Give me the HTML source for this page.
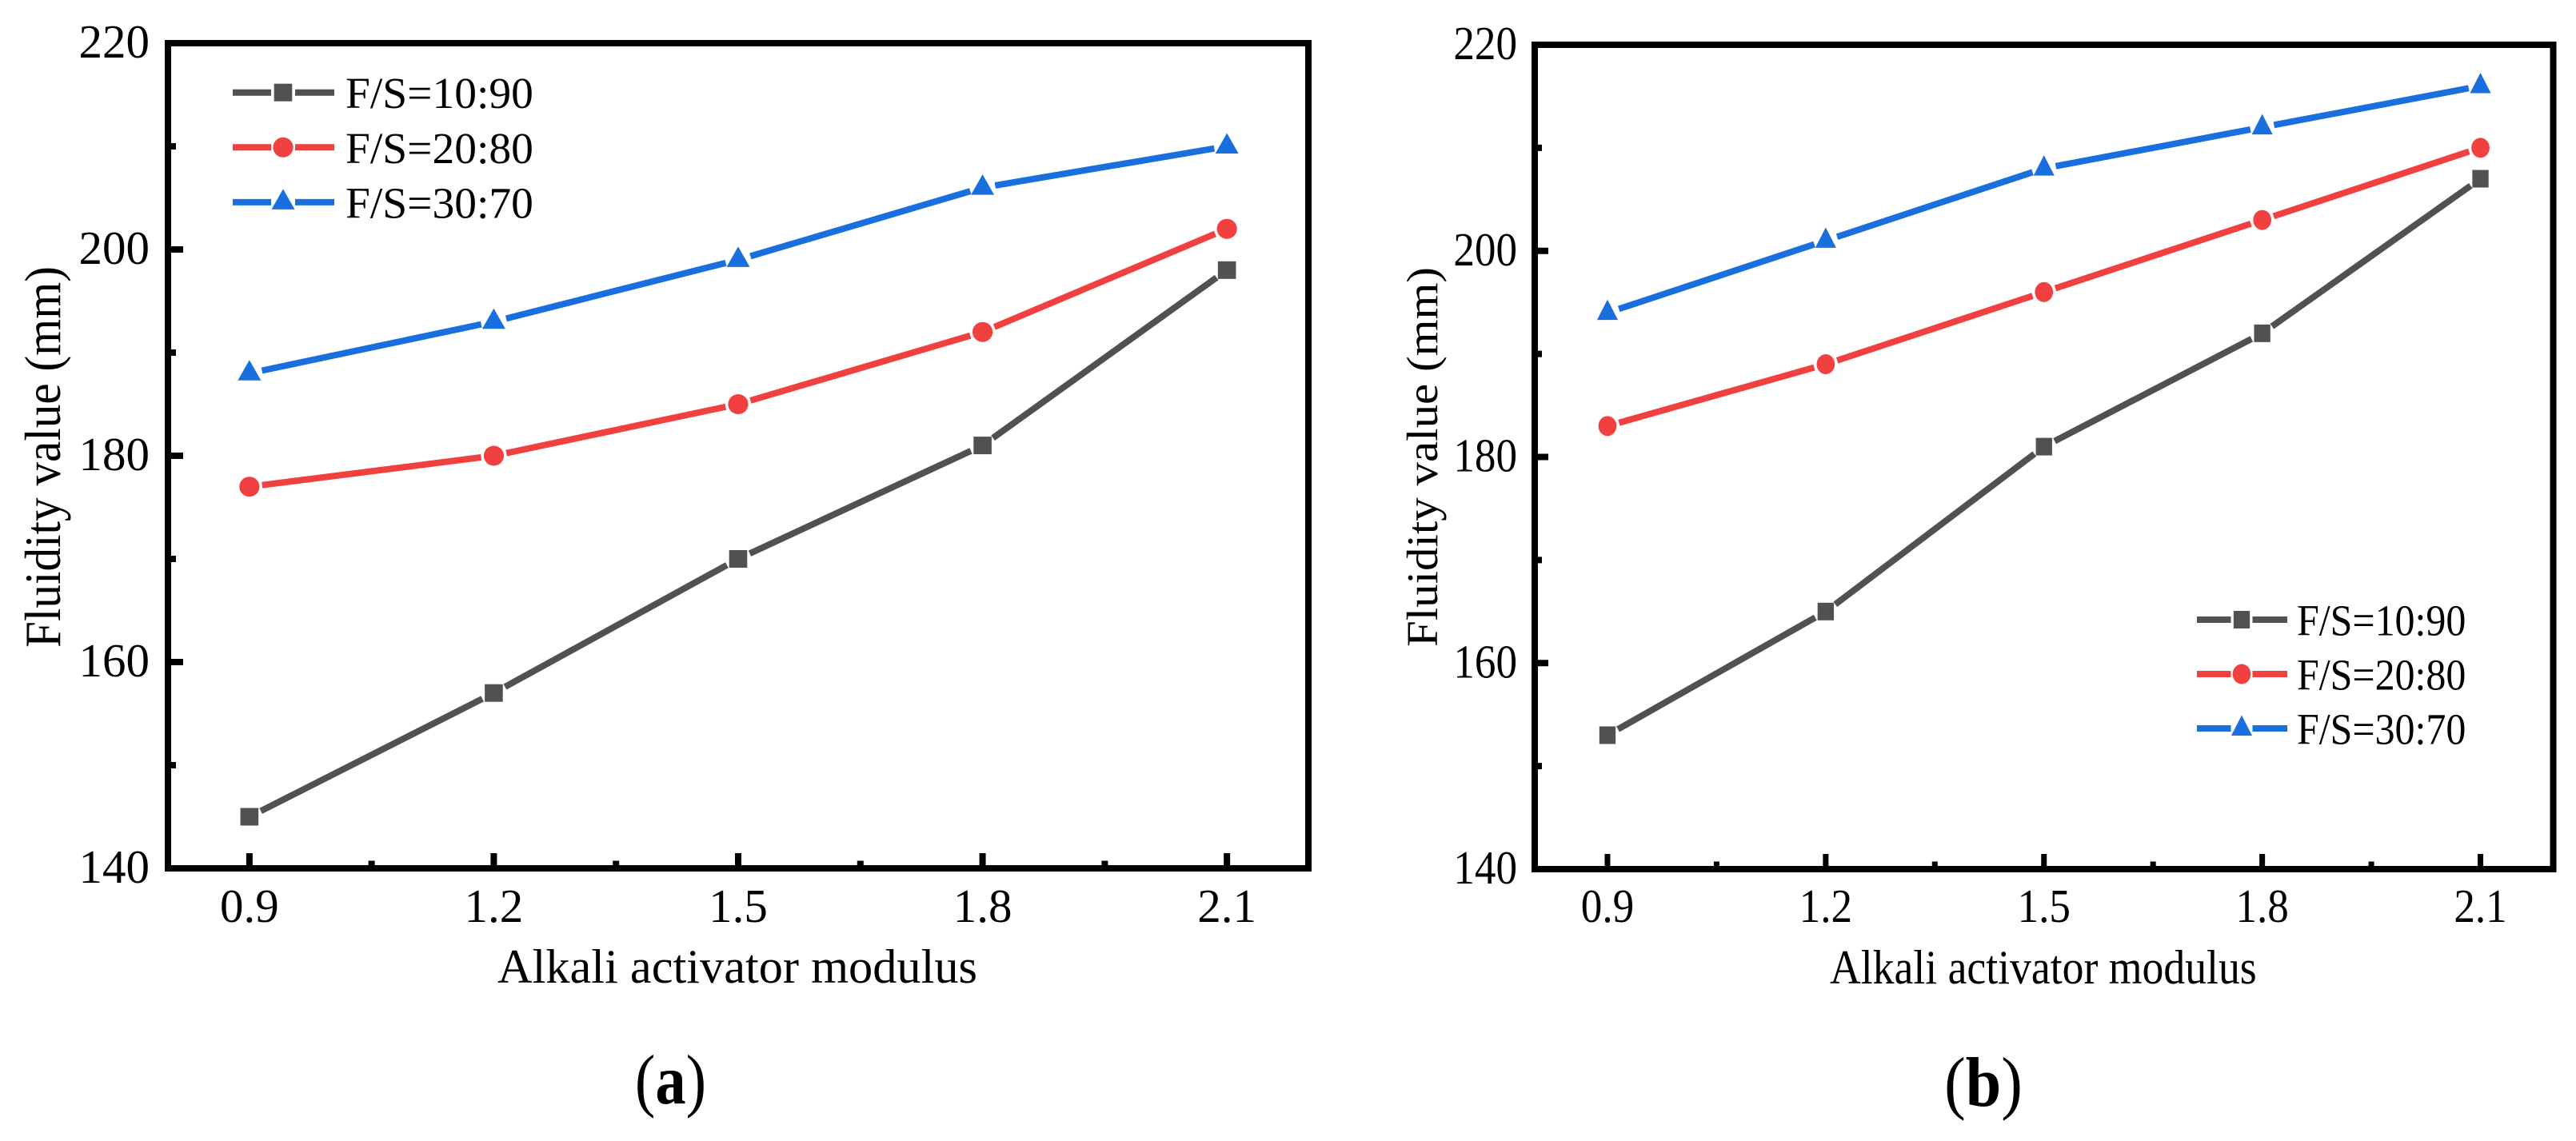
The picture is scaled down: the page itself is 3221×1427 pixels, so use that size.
<!DOCTYPE html>
<html lang="en">
<head>
<meta charset="utf-8">
<title>Fluidity value vs alkali activator modulus</title>
<style>
html,body{margin:0;padding:0;background:#fff;width:3221px;height:1427px;overflow:hidden}
svg{display:block}
text{font-family:"Liberation Serif","Times New Roman",serif;fill:#000}
</style>
</head>
<body>
<svg id="figure" xmlns="http://www.w3.org/2000/svg" width="3221" height="1427" viewBox="0 0 3221 1427">
  <rect x="0" y="0" width="3221" height="1427" fill="#fff"/>

  <g id="panel-a">
    <rect x="210" y="54" width="1426" height="1032" fill="none" stroke="#000" stroke-width="8"/>
    <text x="622" y="1229" font-size="60" textLength="600" lengthAdjust="spacingAndGlyphs">Alkali activator modulus</text>
    <text transform="translate(75 810) scale(1.06 1) rotate(-90)" font-size="59.5" textLength="477" lengthAdjust="spacingAndGlyphs">Fluidity value (mm)</text>
    <text transform="translate(838.5 1380) scale(0.87 1)" font-size="88" text-anchor="middle">(<tspan font-weight="bold">a</tspan>)</text>
  </g>

  <g id="panel-b">
    <rect x="1919" y="56" width="1273.5" height="1031" fill="none" stroke="#000" stroke-width="8"/>
    <text transform="translate(2288 1230) scale(0.9 1)" font-size="60" textLength="593" lengthAdjust="spacingAndGlyphs">Alkali activator modulus</text>
    <text transform="translate(1797 809) scale(0.92 1) rotate(-90)" font-size="59.5" textLength="475" lengthAdjust="spacingAndGlyphs">Fluidity value (mm)</text>
    <text transform="translate(2480 1383) scale(0.91 1)" font-size="88" text-anchor="middle">(<tspan font-weight="bold">b</tspan>)</text>
  </g>
</svg>

<script>
// Shared axis data
const categories = [0.9, 1.2, 1.5, 1.8, 2.1];
const xMinorTicks = [1.05, 1.35, 1.65, 1.95];
const xTickLabels = ['0.9', '1.2', '1.5', '1.8', '2.1'];
const yTicks = [140, 160, 180, 200, 220];
const yMinorTicks = [150, 170, 190, 210];
const yTickLabels = ['140', '160', '180', '200', '220'];
const seriesNames = ['F/S=10:90', 'F/S=20:80', 'F/S=30:70'];

// Panel (a) values
const panelAFs1090 = [145, 157, 170, 181, 198];
const panelAFs2080 = [177, 180, 185, 192, 202];
const panelAFs3070 = [188, 193, 199, 206, 210];

// Panel (b) values
const panelBFs1090 = [153, 165, 181, 192, 207];
const panelBFs2080 = [183, 189, 196, 203, 210];
const panelBFs3070 = [194, 201, 208, 212, 216];

const NS = 'http://www.w3.org/2000/svg';
const seriesColors = ['#515151', '#f14040', '#1a6fdf'];
const seriesKeys = ['fs-10-90', 'fs-20-80', 'fs-30-70'];

function make(tag, attrs, parent) {
  const el = document.createElementNS(NS, tag);
  for (const k in attrs) el.setAttribute(k, attrs[k]);
  parent.appendChild(el);
  return el;
}

function drawMarker(kind, cx, cy, color, sx, parent, prefix) {
  let el;
  if (kind === 0) {
    el = make('rect', {x: cx - 11.3 * sx, y: cy - 11, width: 22.6 * sx, height: 22, fill: color}, parent);
  } else if (kind === 1) {
    el = make('ellipse', {cx: cx, cy: cy, rx: 12.6 * sx, ry: 12.5, fill: color}, parent);
  } else {
    const pts = [[cx, cy - 16.5], [cx + 14.5 * sx, cy + 9], [cx - 14.5 * sx, cy + 9]];
    el = make('polygon', {points: pts.map(p => p.join(',')).join(' '), fill: color}, parent);
  }
  
  
}

function drawPanel(cfg) {
  const root = document.getElementById(cfg.id);
  const x = v => cfg.left + (v - 0.8) / 1.4 * (cfg.right - cfg.left);
  const y = v => cfg.top + (220 - v) / 80 * (cfg.bottom - cfg.top);

  // x ticks
  categories.forEach((c, i) => {
    const tick = make('line', {x1: x(c), x2: x(c), y1: cfg.bottom, y2: cfg.bottom - 19, stroke: '#000', 'stroke-width': cfg.tickW}, root);
    
    
    const label = make('text', {transform: 'translate(' + x(c) + ' ' + cfg.xLabelY + ') scale(' + cfg.sx + ' 1)', 'font-size': 59, 'text-anchor': 'middle'}, root);
    label.textContent = xTickLabels[i];
    
    
  });
  xMinorTicks.forEach(c => {
    const tick = make('line', {x1: x(c), x2: x(c), y1: cfg.bottom, y2: cfg.bottom - 9.5, stroke: '#000', 'stroke-width': cfg.tickW}, root);
    
    
  });

  // y ticks
  yTicks.forEach((t, i) => {
    const tick = make('line', {x1: cfg.left, x2: cfg.left + cfg.yMajorLen, y1: y(t), y2: y(t), stroke: '#000', 'stroke-width': 8}, root);
    
    
    const label = make('text', {transform: 'translate(' + cfg.yLabelX + ' ' + (y(t) + 18) + ') scale(' + cfg.sx + ' 1)', 'font-size': 59, 'text-anchor': 'end'}, root);
    label.textContent = yTickLabels[i];
    
    
  });
  yMinorTicks.forEach(t => {
    const tick = make('line', {x1: cfg.left, x2: cfg.left + cfg.yMinorLen, y1: y(t), y2: y(t), stroke: '#000', 'stroke-width': 8}, root);
    
    
  });

  // series: line segments stop short of every marker, as in the reference
  cfg.series.forEach((vals, s) => {
    const color = seriesColors[s];
    const key = cfg.name + '-' + seriesKeys[s];
    const group = make('g', {}, root);
    
    
    for (let i = 0; i < vals.length - 1; i++) {
      const x1 = x(categories[i]), y1 = y(vals[i]);
      const x2 = x(categories[i + 1]), y2 = y(vals[i + 1]);
      const len = Math.hypot(x2 - x1, y2 - y1);
      const ux = (x2 - x1) / len, uy = (y2 - y1) / len;
      const seg = make('line', {
        x1: x1 + ux * cfg.gap, y1: y1 + uy * cfg.gap,
        x2: x2 - ux * cfg.gap, y2: y2 - uy * cfg.gap,
        stroke: color, 'stroke-width': 8
      }, group);
      
      
    }
    vals.forEach((v, i) => {
      drawMarker(s, x(categories[i]), y(v), color, cfg.sx, group, key);
    });
  });

  // legend
  const lg = make('g', {}, root);
  
  
  seriesNames.forEach((nm, s) => {
    const ly = cfg.legendY + s * cfg.legendStep;
    const color = seriesColors[s];
    const key = cfg.name + '-legend-' + seriesKeys[s];
    const entry = make('g', {}, lg);
    
    
    const l1 = make('line', {x1: cfg.legendX1, x2: cfg.legendMid - cfg.legendGap, y1: ly, y2: ly, stroke: color, 'stroke-width': 8}, entry);
    
    
    const l2 = make('line', {x1: cfg.legendMid + cfg.legendGap, x2: cfg.legendX2, y1: ly, y2: ly, stroke: color, 'stroke-width': 8}, entry);
    
    
    drawMarker(s, cfg.legendMid, ly, color, cfg.sx, entry, key);
    const t = make('text', {transform: 'translate(' + cfg.legendTextX + ' ' + (ly + 19.5) + ') scale(' + cfg.sx + ' 1)', 'font-size': 55.5}, entry);
    t.textContent = nm;
    
    
  });
}

drawPanel({
  id: 'panel-a', name: 'panel-a', sx: 1,
  left: 210, right: 1636, top: 54, bottom: 1086,
  tickW: 8, yMajorLen: 19, yMinorLen: 10, xLabelY: 1153, yLabelX: 187, gap: 16,
  series: [panelAFs1090, panelAFs2080, panelAFs3070],
  legendY: 115.7, legendStep: 68.6, legendX1: 291, legendX2: 418, legendMid: 354, legendGap: 15, legendTextX: 432
});

drawPanel({
  id: 'panel-b', name: 'panel-b', sx: 0.9,
  left: 1919, right: 3192.5, top: 56, bottom: 1087,
  tickW: 7, yMajorLen: 17, yMinorLen: 9, xLabelY: 1153, yLabelX: 1897, gap: 15,
  series: [panelBFs1090, panelBFs2080, panelBFs3070],
  legendY: 775, legendStep: 68, legendX1: 2747, legendX2: 2860, legendMid: 2803, legendGap: 13.5, legendTextX: 2872
});
</script>
</body>
</html>
